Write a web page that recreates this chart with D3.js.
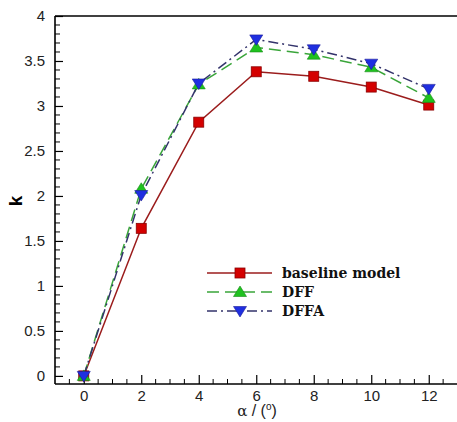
<!DOCTYPE html>
<html>
<head>
<meta charset="utf-8">
<script src="https://cdn.jsdelivr.net/npm/d3@7"></script>
<style>
  html, body { margin: 0; padding: 0; background: #fff; }
  svg { display: block; }
</style>
</head>
<body>
<svg id="chart" width="457" height="422"></svg>
<script>
// Angle of attack (degrees) and k for each model
const alpha = [0, 2, 4, 6, 8, 10, 12];
const baseline = [0, 1.64, 2.82, 3.38, 3.33, 3.21, 3.01];
const dff = [0, 2.08, 3.24, 3.65, 3.57, 3.43, 3.09];
const dffa = [0, 2.01, 3.25, 3.74, 3.63, 3.47, 3.19];
const xTicks = [0, 2, 4, 6, 8, 10, 12];
const yTicks = [0, 0.5, 1, 1.5, 2, 2.5, 3, 3.5, 4];
const seriesNames = ["baseline model", "DFF", "DFFA"];

(function () {
const svg = d3.select("#chart");
const W = 457;
const plotLeft = 55, plotTop = 16, plotBottom = 384;

const x = d3.scaleLinear().domain([-1, 13.5]).range([plotLeft, plotLeft + 14.5 * 28.75]);
const y = d3.scaleLinear().domain([-0.09, 4]).range([plotBottom, plotTop]);

const g = svg.append("g");

// frame: left, top and bottom lines (right side runs off the canvas)
g.append("line").attr("x1", plotLeft).attr("x2", W + 5).attr("y1", plotTop).attr("y2", plotTop)
  .attr("stroke", "#000").attr("stroke-width", 1.6);
g.append("line").attr("x1", plotLeft).attr("x2", W + 5).attr("y1", plotBottom).attr("y2", plotBottom)
  .attr("stroke", "#000").attr("stroke-width", 1.6);
g.append("line").attr("x1", plotLeft).attr("x2", plotLeft).attr("y1", plotTop).attr("y2", plotBottom)
  .attr("stroke", "#000").attr("stroke-width", 1.6);

// y axis: inward ticks, minor every 0.1
const yAxis = d3.axisLeft(y).tickValues(yTicks).tickSize(-8).tickPadding(10)
  .tickFormat(d => d3.format("~g")(d));
const yA = g.append("g").attr("transform", `translate(${plotLeft},0)`).call(yAxis);
yA.select(".domain").remove();
yA.selectAll("text").attr("font-family", "Liberation Sans, Arial, sans-serif")
  .attr("font-size", 15).attr("fill", "#222");
const yMinor = d3.range(0, 40).map(i => i / 10).filter(v => Math.round(v * 10) % 5 !== 0);
g.append("g").selectAll("line").data(yMinor).join("line")
  .attr("x1", plotLeft).attr("x2", plotLeft + 5)
  .attr("y1", d => y(d)).attr("y2", d => y(d))
  .attr("stroke", "#000").attr("stroke-width", 1);

// x axis: inward ticks, minor every 0.5
const xAxis = d3.axisBottom(x).tickValues(xTicks).tickSize(-9).tickPadding(6)
  .tickFormat(d3.format("d"));
const xA = g.append("g").attr("transform", `translate(0,${plotBottom})`).call(xAxis);
xA.select(".domain").remove();
xA.selectAll("text").attr("font-family", "Liberation Sans, Arial, sans-serif")
  .attr("font-size", 15).attr("fill", "#222");
const xMinor = d3.range(-0.5, 13.5, 0.5).filter(v => v % 2 !== 0);
g.append("g").selectAll("line").data(xMinor).join("line")
  .attr("x1", d => x(d)).attr("x2", d => x(d))
  .attr("y1", plotBottom).attr("y2", plotBottom - 5)
  .attr("stroke", "#000").attr("stroke-width", 1);
g.selectAll(".tick line").attr("stroke-width", 1.2);

// axis titles
svg.append("text").attr("transform", `translate(22,201) rotate(-90)`)
  .attr("text-anchor", "middle").attr("font-family", "Liberation Sans, Arial, sans-serif")
  .attr("font-weight", "bold").attr("font-size", 19).text("k");
const xt = svg.append("text").attr("x", 257).attr("y", 416).attr("text-anchor", "middle")
  .attr("font-family", "Liberation Sans, Arial, sans-serif").attr("font-size", 16)
  .attr("fill", "#222");
xt.append("tspan").attr("font-family", "DejaVu Serif, serif").attr("font-size", 15).text("α");
xt.append("tspan").text(" / (");
xt.append("tspan").attr("font-size", 10).attr("dy", -6).text("o");
xt.append("tspan").attr("dy", 6).text(")");

const styles = [
  { data: baseline, line: "#9b1c1c", dash: null, fill: "#d40000", stroke: "#8a0000", shape: "square" },
  { data: dff, line: "#3aa53a", dash: "12,6", fill: "#1fc21f", stroke: "#178a17", shape: "up" },
  { data: dffa, line: "#33336b", dash: "10,4,2,4", fill: "#1f2fe0", stroke: "#1a1a99", shape: "down" }
];

const line = d3.line().x((d, i) => x(alpha[i])).y(d => y(d));

function marker(sel, shape, fill, stroke) {
  if (shape === "square") {
    sel.append("rect").attr("x", -5).attr("y", -5).attr("width", 10).attr("height", 10)
      .attr("fill", fill).attr("stroke", stroke).attr("stroke-width", 0.8);
  } else {
    const s = shape === "up" ? -1 : 1;
    const p = [[-6.5, -4.5 * s], [6.5, -4.5 * s], [0, 6 * s]];
    sel.append("path").attr("d", "M" + p.map(q => q.join(",")).join("L") + "Z")
      .attr("fill", fill).attr("stroke", stroke).attr("stroke-width", 0.6);
  }
}

styles.forEach(s => {
  g.append("path").datum(s.data).attr("d", line).attr("fill", "none")
    .attr("stroke", s.line).attr("stroke-width", 1.5)
    .attr("stroke-dasharray", s.dash);
});
styles.forEach(s => {
  s.data.forEach((v, i) => {
    const m = g.append("g").attr("transform", `translate(${x(alpha[i])},${y(v)})`);
    marker(m, s.shape, s.fill, s.stroke);
  });
});

// legend
const legY = [273, 292, 311];
styles.forEach((s, i) => {
  const lg = svg.append("g").attr("transform", `translate(0,${legY[i]})`);
  lg.append("line").attr("x1", 207).attr("x2", 272).attr("y1", 0).attr("y2", 0)
    .attr("stroke", s.line).attr("stroke-width", 1.5).attr("stroke-dasharray", s.dash);
  const m = lg.append("g").attr("transform", "translate(240,0)");
  marker(m, s.shape, s.fill, s.stroke);
  lg.append("text").attr("x", 282).attr("y", 5)
    .attr("font-family", "DejaVu Serif, serif")
    .attr("font-weight", "bold").attr("font-size", 14).attr("fill", "#111")
    .text(seriesNames[i]);
});
})();
</script>
</body>
</html>
